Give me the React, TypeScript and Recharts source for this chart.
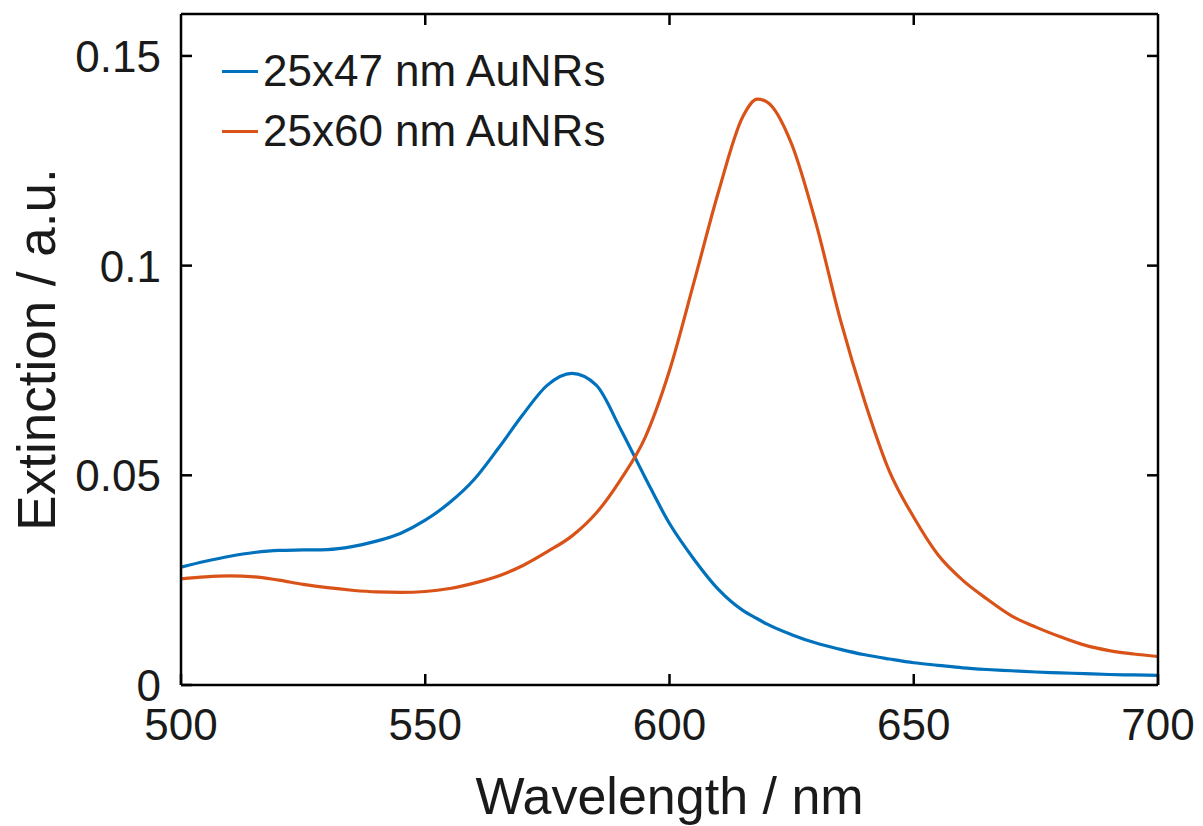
import { LineChart, Line, XAxis, YAxis } from "recharts";

const FONT = "'Liberation Sans', Arial, Helvetica, sans-serif";

const wavelengths = [
  500, 505, 510, 515, 520, 525, 530, 535, 540, 545, 550, 555, 560, 565, 570, 575, 580, 585, 590, 595,
  600, 605, 610, 615, 618, 620, 625, 630, 635, 640, 645, 650, 655, 660, 665, 670, 675, 680, 685, 690, 695, 700,
];

const au25x47 = [
  0.0281, 0.0295, 0.0307, 0.0316, 0.0321, 0.0322, 0.0323, 0.033, 0.0343, 0.0362, 0.0393, 0.0435, 0.049, 0.0565,
  0.0645, 0.0715, 0.0743, 0.0715, 0.061, 0.0495, 0.0385, 0.03, 0.0228, 0.0178, 0.0158, 0.0145, 0.012, 0.01,
  0.0085, 0.0072, 0.0062, 0.0053, 0.0047, 0.0041, 0.0037, 0.0034, 0.0031, 0.0029, 0.0027, 0.0025, 0.0024, 0.0023,
];

const au25x60 = [
  0.0253, 0.0258, 0.026, 0.0258, 0.025, 0.024, 0.0232, 0.0226, 0.0222, 0.0221, 0.0223, 0.023, 0.0243, 0.026,
  0.0285, 0.0318, 0.0355, 0.041, 0.049, 0.059, 0.075, 0.096, 0.1175, 0.1355, 0.1397, 0.139, 0.129, 0.11,
  0.087, 0.0675, 0.051, 0.04, 0.031, 0.025, 0.0205, 0.0165, 0.0138, 0.0115, 0.0095, 0.0082, 0.0074, 0.0068,
];

const xTicks = [500, 550, 600, 650, 700];
const yTicks = [0, 0.05, 0.1, 0.15];

const SERIES = [
  { key: "a47", name: "25x47 nm AuNRs", color: "#0072BD" },
  { key: "a60", name: "25x60 nm AuNRs", color: "#D95319" },
];

const data = wavelengths.map((wl, i) => ({ wl, a47: au25x47[i], a60: au25x60[i] }));

const TICK_LEN = 11;
const INK = "#1a1a1a";

// tick marks point into the plot, MATLAB style
const BottomTick = ({ x, y, payload }: any) => (
  <g>
    <path d={`M${x},${y}V${y - TICK_LEN}`} stroke="#000" strokeWidth={2.5} fill="none" />
    <text x={x} y={y + 55} textAnchor="middle" fontSize={44} fontFamily={FONT} fill={INK}>
      {payload.value}
    </text>
  </g>
);

const TopTick = ({ x, y }: any) => (
  <path d={`M${x},${y}V${y + TICK_LEN}`} stroke="#000" strokeWidth={2.5} fill="none" />
);

const LeftTick = ({ x, y, payload }: any) => (
  <g>
    <path d={`M${x},${y}H${x + TICK_LEN}`} stroke="#000" strokeWidth={2.5} fill="none" />
    <text x={x - 20} y={y + 16} textAnchor="end" fontSize={44} fontFamily={FONT} fill={INK}>
      {String(payload.value)}
    </text>
  </g>
);

const RightTick = ({ x, y }: any) => (
  <path d={`M${x},${y}H${x - TICK_LEN}`} stroke="#000" strokeWidth={2.5} fill="none" />
);

const axisLine = { stroke: "#000", strokeWidth: 2.5 };

export default function App() {
  return (
    <div style={{ position: "relative", width: 1190, height: 818 }}>
      <LineChart width={1190} height={818} data={data} margin={{ top: 5, right: 39, bottom: 0, left: 0 }}>
        <XAxis
          dataKey="wl"
          type="number"
          domain={[500, 700]}
          ticks={xTicks}
          height={141}
          tickSize={0}
          tickMargin={0}
          tickLine={false}
          axisLine={axisLine}
          tick={<BottomTick />}
          interval={0}
          label={{
            value: "Wavelength / nm",
            position: "insideBottom",
            offset: 12,
            fontSize: 52,
            fontFamily: FONT,
            fill: INK,
          }}
        />
        <XAxis
          xAxisId="top"
          orientation="top"
          dataKey="wl"
          type="number"
          domain={[500, 700]}
          allowDataOverflow
          ticks={[550, 600, 650]}
          height={1}
          tickSize={0}
          tickMargin={0}
          tickLine={false}
          axisLine={axisLine}
          tick={<TopTick />}
          interval={0}
        />
        <YAxis
          type="number"
          domain={[0, 0.16]}
          ticks={yTicks}
          width={173}
          tickSize={0}
          tickMargin={0}
          tickLine={false}
          axisLine={axisLine}
          tick={<LeftTick />}
          interval={0}
          label={{
            value: "Extinction / a.u.",
            angle: -90,
            position: "insideLeft",
            offset: 28,
            fontSize: 53,
            fontFamily: FONT,
            fill: INK,
            style: { textAnchor: "middle" },
          }}
        />
        <YAxis
          yAxisId="right"
          orientation="right"
          type="number"
          domain={[0, 0.16]}
          allowDataOverflow
          ticks={[0.05, 0.1, 0.15]}
          width={1}
          tickSize={0}
          tickMargin={0}
          tickLine={false}
          axisLine={axisLine}
          tick={<RightTick />}
          interval={0}
        />
        {SERIES.map((s) => (
          <Line
            key={s.key}
            dataKey={s.key}
            name={s.name}
            type="monotone"
            stroke={s.color}
            strokeWidth={3.2}
            dot={false}
            activeDot={false}
            isAnimationActive={false}
          />
        ))}
      </LineChart>
      <div style={{ position: "absolute", top: 33, left: 214, fontFamily: FONT, fontSize: 44, color: INK }}>
        {SERIES.map((s) => (
          <div key={s.key} style={{ display: "flex", alignItems: "center", height: 60, whiteSpace: "nowrap" }}>
            <span style={{ display: "inline-block", width: 36, height: 3, background: s.color, marginRight: 5 }} />
            <span>{s.name}</span>
          </div>
        ))}
      </div>
    </div>
  );
}
